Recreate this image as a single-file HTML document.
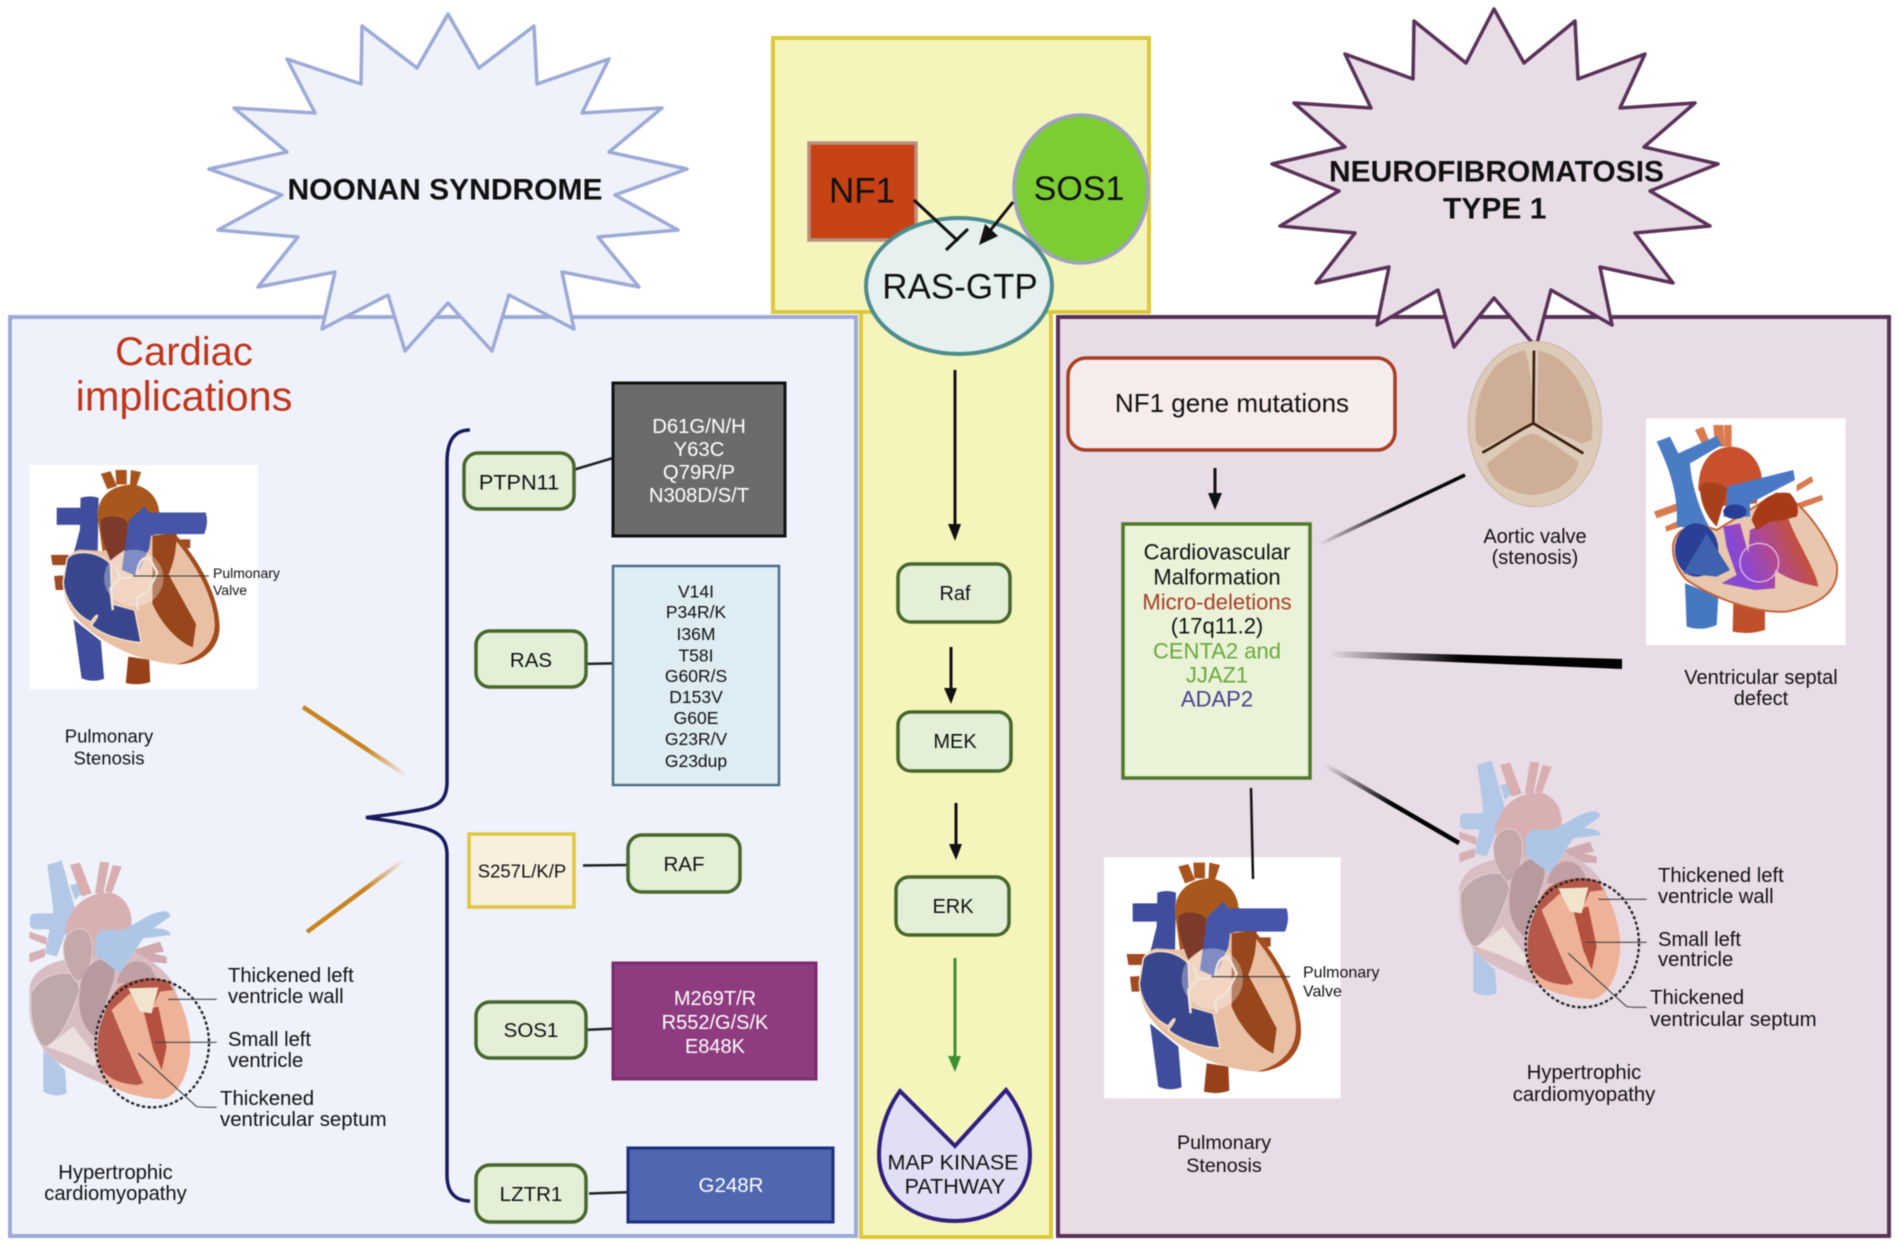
<!DOCTYPE html>
<html lang="en"><head><meta charset="utf-8"><title>Noonan Syndrome and Neurofibromatosis Type 1</title>
<style>
html,body{margin:0;padding:0;background:#fff;width:1900px;height:1246px;overflow:hidden}
svg{display:block;filter:blur(.5px)}
text{font-family:"Liberation Sans",sans-serif;fill:#111;text-anchor:middle}
.l{text-anchor:start}
.b{font-weight:bold}
.w{fill:#fff}
.box{fill:#e4efd8;stroke:#47672a;stroke-width:3.5}
</style></head><body>
<svg width="1900" height="1246" viewBox="0 0 1900 1246" xmlns="http://www.w3.org/2000/svg">
<defs>
<linearGradient id="o1" gradientUnits="userSpaceOnUse" x1="303" y1="707" x2="407" y2="776"><stop offset="0" stop-color="#c8841e"/><stop offset=".6" stop-color="#c8841e"/><stop offset="1" stop-color="#c8841e" stop-opacity="0"/></linearGradient>
<linearGradient id="o2" gradientUnits="userSpaceOnUse" x1="307" y1="932" x2="404" y2="860"><stop offset="0" stop-color="#c8841e"/><stop offset=".6" stop-color="#c8841e"/><stop offset="1" stop-color="#c8841e" stop-opacity="0"/></linearGradient>
<linearGradient id="k1" gradientUnits="userSpaceOnUse" x1="1465" y1="473" x2="1318" y2="544"><stop offset="0" stop-color="#000"/><stop offset=".5" stop-color="#111"/><stop offset="1" stop-color="#000" stop-opacity="0"/></linearGradient>
<linearGradient id="k2" gradientUnits="userSpaceOnUse" x1="1329" y1="654" x2="1621" y2="664"><stop offset="0" stop-color="#000" stop-opacity="0"/><stop offset=".45" stop-color="#000"/><stop offset="1" stop-color="#000"/></linearGradient>
<linearGradient id="k3" gradientUnits="userSpaceOnUse" x1="1325" y1="765" x2="1459" y2="843"><stop offset="0" stop-color="#000" stop-opacity="0"/><stop offset=".5" stop-color="#000"/></linearGradient>
<linearGradient id="lv" gradientUnits="userSpaceOnUse" x1="880" y1="700" x2="1060" y2="620"><stop offset="0" stop-color="#8a48d0"/><stop offset=".45" stop-color="#b04a90"/><stop offset="1" stop-color="#c8522c"/></linearGradient>
<g id="heartA">
<rect x="12" y="22" width="710" height="723" fill="#fff"/>
<path d="M150,520L175,710Q210,725 245,712L235,590Z" fill="#3f4d9c"/>
<path d="M320,640L312,725Q350,735 388,722L385,650Z" fill="#98401a"/>
<path d="M80,312H135V345H85ZM90,380L118,378V425L95,425ZM470,262H512V290H470Z" fill="#a04a22"/>
<path d="M172,128Q200,118 228,128L225,310H150L170,230Z" fill="#3f4d9c"/>
<path d="M98,160H175V215H98Z" fill="#3f4d9c"/>
<path d="M120,400C120,340 135,300 170,295L250,300C240,260 225,220 225,180C225,120 270,90 330,85C380,90 410,130 415,170L460,240C520,300 600,430 603,540C605,620 540,665 470,665C390,660 290,630 200,555C150,515 115,460 120,400Z" fill="#eac0a4"/>
<path d="M415,170L460,240C520,300 600,430 603,540C605,620 540,665 470,665C530,650 585,610 588,540C590,450 520,320 445,240Z" fill="#a34c1e"/>
<path d="M235,50L265,42L285,90L255,100ZM280,38H315V85H283ZM328,38L360,45L345,90H325Z" fill="#a8521c"/>
<path d="M225,190C225,120 270,88 330,85C385,90 415,135 415,175L390,250L240,300Z" fill="#a8581c"/>
<path d="M235,200C250,180 310,185 318,210L315,290L265,330C245,280 232,240 235,200Z" fill="#7d3a2a"/>
<path d="M395,250L470,240C470,320 450,360 445,375L530,535L520,610C470,590 420,530 395,470Z" fill="#98461c"/>
<path d="M130,325C150,295 220,295 265,340L270,470L340,490L360,595C300,590 240,570 205,540C240,495 220,500 205,528C160,510 120,450 118,400Z" fill="#39468e" stroke="#f0dcc8" stroke-width="5"/>
<path d="M322,200L370,155L385,175H540L560,175Q570,210 555,245H410L390,250L385,290L345,380L300,360Z" fill="#4655a8"/>
<circle cx="337" cy="387" r="92" fill="#fff" opacity=".32"/>
<path d="M280,350L295,385L265,420L272,490M300,385Q320,390 330,380M345,385C350,330 370,310 390,330L410,370L380,430L345,450L350,490" fill="none" stroke="#f0e4d8" stroke-width="8"/>
<path d="M335,380H570" stroke="#333" stroke-width="3.5" fill="none"/>
</g>
<g id="heartB">
<path d="M82,45L125,32L165,175L110,320L75,310L100,180Z" fill="#b2c8e6"/>
<path d="M150,105L175,100L185,130L165,150Z" fill="#b2c8e6"/>
<path d="M30,205Q30,190 50,190H100V238H50Q30,238 30,222Z" fill="#b2c8e6"/>
<path d="M28,245L80,262V285L28,265ZM28,310L75,295V320L28,338Z" fill="#d6b0b4"/>
<path d="M150,45L180,38L215,130L185,140ZM240,35L268,38L250,130H225ZM278,45L305,50L275,130L255,125Z" fill="#d8aeb0"/>
<path d="M135,240C150,150 230,120 280,130C325,145 345,200 330,250L280,340L150,330Z" fill="#d8b0b2"/>
<path d="M340,300L420,275L432,305L400,310L440,320V340L380,335Z" fill="#d0aaae"/>
<path d="M70,600V725Q105,745 140,730L135,660Z" fill="#b2c8e6"/>
<path d="M28,420C30,370 80,340 130,330L340,305C400,330 440,370 460,400L510,560C515,650 480,730 430,745C340,745 230,700 110,635C60,600 30,540 28,480Z" fill="#d8bdc2"/>
<path d="M32,430C60,380 110,365 150,370C180,390 175,410 180,420C150,500 130,560 80,590L68,587C40,560 30,500 32,430Z" fill="#bfa8aa" stroke="#e4d4d4" stroke-width="3"/>
<path d="M130,290C135,240 170,230 195,240C225,260 225,320 195,385L170,395C140,360 130,330 130,290Z" fill="#c4a8aa" stroke="#e0d0d0" stroke-width="3"/>
<path d="M180,420C185,350 240,310 275,335C290,350 285,385 270,420L225,560C190,540 170,480 180,420Z" fill="#b89a9e"/>
<path d="M290,400C300,350 340,310 390,350L410,385L320,400Z" fill="#c0a0a4"/>
<path d="M80,590L160,530L230,620L225,650L150,615Z" fill="#ece0dc"/>
<path d="M228,260Q240,235 265,240L310,240L390,195Q450,170 450,200L400,235Q450,235 452,255L370,265L300,370L225,315Z" fill="#aec6e6"/>
<path d="M300,410C340,385 400,375 445,400C490,450 515,540 510,610C500,690 470,735 430,748C370,745 300,730 260,700C225,620 230,560 250,500C265,460 275,430 300,410Z" fill="#eeb298"/>
<path d="M300,410C340,385 400,375 445,395L460,420L420,425L390,490L330,430L275,480C300,540 340,640 370,700L350,705C300,700 265,690 240,650C225,600 235,530 250,500C265,460 275,430 300,410Z" fill="#b5584a"/>
<path d="M370,480L415,470L440,590L425,660L400,600Z" fill="#b5503f"/>
<path d="M325,415L415,412L395,490L360,485Z" fill="#f0e4cc"/>
<ellipse cx="397" cy="580" rx="170" ry="192" fill="none" stroke="#222" stroke-width="7" stroke-dasharray="10 7"/>
<path d="M445,448H590M405,577H590M355,610L530,770Q535,772 590,772" fill="none" stroke="#444" stroke-width="3.5"/>
</g>
</defs>

<!-- panels -->
<rect x="773" y="38" width="376" height="274" fill="#f5f5bb" stroke="#dcc83c" stroke-width="4"/>
<rect x="10" y="317" width="846" height="919" fill="#eff2fb" stroke="#9daad6" stroke-width="4"/>
<rect x="861" y="312" width="190" height="925" fill="#f5f5bb" stroke="#dcc83c" stroke-width="4"/>
<rect x="1058" y="317" width="831" height="919" fill="#e8dce6" stroke="#5a3258" stroke-width="4"/>

<!-- stars -->
<polygon points="448,14 479,68 534,26 537,84 609,59 582,113 662,108 609,152 687,169 615,195 678,230 598,237 639,287 562,272 574,329 509,295 492,351 448,303 405,351 388,295 322,329 335,272 258,287 298,237 218,230 282,195 209,169 287,152 234,108 315,113 287,59 361,84 362,26 417,68" fill="#eff2fb" stroke="#9daad6" stroke-width="3.5" stroke-linejoin="round"/>
<polygon points="1494,9 1524,63 1575,21 1578,79 1645,54 1620,108 1695,103 1644,147 1718,164 1650,191 1710,226 1635,233 1673,283 1600,267 1612,325 1551,290 1536,347 1494,298 1454,347 1438,290 1377,325 1389,267 1316,283 1355,233 1280,226 1339,191 1272,164 1345,147 1294,103 1371,108 1345,54 1413,79 1414,21 1466,63" fill="#e8dce6" stroke="#5a3258" stroke-width="3.5" stroke-linejoin="round"/>
<text x="445" y="189" dy=".35em" class="b" font-size="30">NOONAN SYNDROME</text>
<text x="1329" y="171" dy=".35em" class="b l" font-size="30" textLength="335" lengthAdjust="spacingAndGlyphs">NEUROFIBROMATOSIS</text>
<text x="1443" y="208" dy=".35em" class="b l" font-size="30">TYPE 1</text>

<!-- center top -->
<rect x="809" y="143" width="107" height="97" fill="#c64214" stroke="#bc8d80" stroke-width="3.5"/>
<text x="862" y="190" dy=".35em" font-size="35">NF1</text>
<ellipse cx="1081" cy="189" rx="67" ry="74" fill="#7ccd32" stroke="#9f9fc8" stroke-width="3.5"/>
<text x="1079" y="188" dy=".35em" font-size="34">SOS1</text>
<ellipse cx="959" cy="286" rx="93" ry="68" fill="#e5f0ef" stroke="#4d8d8d" stroke-width="4"/>
<text x="960" y="286" dy=".35em" font-size="35">RAS-GTP</text>
<path d="M914,200L958,241M946,250L968,229" stroke="#111" stroke-width="3" fill="none"/>
<path d="M1013,202L989,232" stroke="#111" stroke-width="3" fill="none"/>
<polygon points="979,245 985,224 998,236" fill="#111"/>

<!-- pathway -->
<path d="M955,370V526" stroke="#111" stroke-width="3"/><polygon points="948,524 961,524 955,541" fill="#111"/>
<path d="M951,647V690" stroke="#111" stroke-width="3"/><polygon points="944,688 957,688 951,704" fill="#111"/>
<path d="M956,803V846" stroke="#111" stroke-width="3"/><polygon points="949,844 962,844 956,860" fill="#111"/>
<path d="M955,958V1058" stroke="#3f8f2f" stroke-width="3"/><polygon points="948,1056 961,1056 955,1072" fill="#3f8f2f"/>
<rect class="box" x="898" y="564" width="112" height="58" rx="13"/><text x="955" y="593" dy=".35em" font-size="20">Raf</text>
<rect class="box" x="898" y="712" width="113" height="59" rx="13"/><text x="955" y="741" dy=".35em" font-size="20">MEK</text>
<rect class="box" x="896" y="877" width="113" height="58" rx="13"/><text x="953" y="906" dy=".35em" font-size="20">ERK</text>
<path d="M900,1091L955,1146L1006,1090C1022,1110 1030,1135 1030,1155C1030,1195 997,1221 955,1221C912,1221 879,1195 879,1155C879,1135 886,1110 900,1091Z" fill="#e1dff3" stroke="#2f2080" stroke-width="4"/>
<text x="953" y="1162" dy=".35em" font-size="21.5">MAP KINASE</text>
<text x="955" y="1186" dy=".35em" font-size="21.5">PATHWAY</text>

<!-- left panel -->
<text x="184" y="351" dy=".35em" font-size="40" style="fill:#c0341a">Cardiac</text>
<text x="184" y="396" dy=".35em" font-size="41.5" style="fill:#c0341a">implications</text>
<use href="#heartA" transform="translate(25.1,458.2) scale(.3225,.31)"/>
<text x="213" y="573" dy=".35em" class="l" font-size="14">Pulmonary</text>
<text x="213" y="590" dy=".35em" class="l" font-size="14">Valve</text>
<text x="109" y="736" dy=".35em" font-size="18.5">Pulmonary</text>
<text x="109" y="758" dy=".35em" font-size="18.5">Stenosis</text>
<path d="M303,707L407,776" stroke="url(#o1)" stroke-width="4.5" fill="none"/>
<path d="M307,932L404,860" stroke="url(#o2)" stroke-width="4.5" fill="none"/>
<path d="M470,430C455,430 447,440 447,462V782C447,800 438,806 424,809C405,813 385,815 366,817.5C385,820 405,823 424,828C438,832 447,838 447,855V1175C447,1192 455,1201 470,1201" fill="none" stroke="#1a1a60" stroke-width="3.5"/>
<use href="#heartB" transform="translate(20,850) scale(.3333)"/>
<text x="228" y="975" dy=".35em" class="l" font-size="20.2">Thickened left</text>
<text x="228" y="996" dy=".35em" class="l" font-size="20.2">ventricle wall</text>
<text x="228" y="1039" dy=".35em" class="l" font-size="20.2">Small left</text>
<text x="228" y="1060" dy=".35em" class="l" font-size="20.2">ventricle</text>
<text x="220" y="1098" dy=".35em" class="l" font-size="20.4">Thickened</text>
<text x="220" y="1119" dy=".35em" class="l" font-size="20.4">ventricular septum</text>
<text x="115.5" y="1172" dy=".35em" font-size="20.2">Hypertrophic</text>
<text x="115.5" y="1193" dy=".35em" font-size="20.2">cardiomyopathy</text>

<path d="M573,470L613,458" stroke="#222" stroke-width="2.5"/>
<path d="M582,664L630,663" stroke="#222" stroke-width="2.5"/>
<path d="M583,865.5L627,865" stroke="#222" stroke-width="2.5"/>
<path d="M582,1030L628,1028" stroke="#222" stroke-width="2.5"/>
<path d="M589,1193.5L635,1192" stroke="#222" stroke-width="2.5"/>

<rect class="box" x="464" y="453" width="110" height="56" rx="14"/><text x="519" y="482" dy=".35em" font-size="21.7">PTPN11</text>
<rect class="box" x="476" y="631" width="110" height="56" rx="14"/><text x="531" y="660" dy=".35em" font-size="20.5">RAS</text>
<rect class="box" x="628" y="835" width="112" height="57" rx="14"/><text x="684" y="864" dy=".35em" font-size="20.5">RAF</text>
<rect class="box" x="476" y="1002" width="110" height="56" rx="14"/><text x="531" y="1030" dy=".35em" font-size="20.5">SOS1</text>
<rect class="box" x="476" y="1165" width="110" height="57" rx="14"/><text x="531" y="1194" dy=".35em" font-size="20.5">LZTR1</text>
<rect x="469" y="834" width="105" height="73" fill="#f8f0dc" stroke="#e0c640" stroke-width="3.5"/>
<text x="522" y="871" dy=".35em" font-size="18.5">S257L/K/P</text>

<rect x="613" y="383" width="172" height="153" fill="#6b6b6b" stroke="#111" stroke-width="3"/>
<g font-size="20.3">
<text class="w" x="699" y="426" dy=".35em">D61G/N/H</text>
<text class="w" x="699" y="449" dy=".35em">Y63C</text>
<text class="w" x="699" y="472" dy=".35em">Q79R/P</text>
<text class="w" x="699" y="495" dy=".35em">N308D/S/T</text>
</g>
<rect x="613" y="566" width="166" height="219" fill="#deecf4" stroke="#4a7088" stroke-width="2.5"/>
<g font-size="17.5">
<text x="696" y="591.5" dy=".35em">V14I</text>
<text x="696" y="612" dy=".35em">P34R/K</text>
<text x="696" y="634" dy=".35em">I36M</text>
<text x="696" y="655.5" dy=".35em">T58I</text>
<text x="696" y="676" dy=".35em">G60R/S</text>
<text x="696" y="697" dy=".35em">D153V</text>
<text x="696" y="718" dy=".35em">G60E</text>
<text x="696" y="739" dy=".35em">G23R/V</text>
<text x="696" y="761" dy=".35em">G23dup</text>
</g>
<rect x="613" y="963" width="203" height="116" fill="#8f3b7f" stroke="#7a2b6e" stroke-width="3"/>
<g font-size="20">
<text class="w" x="715" y="998" dy=".35em">M269T/R</text>
<text class="w" x="715" y="1022" dy=".35em">R552/G/S/K</text>
<text class="w" x="715" y="1046" dy=".35em">E848K</text>
</g>
<rect x="628" y="1148" width="205" height="74" fill="#4f66b0" stroke="#1c2e80" stroke-width="3"/>
<text class="w" x="731" y="1185" dy=".35em" font-size="20.5">G248R</text>

<!-- right panel -->
<rect x="1068" y="358" width="327" height="92" rx="18" fill="#f6ecec" stroke="#a83c22" stroke-width="3.5"/>
<text x="1232" y="403" dy=".35em" font-size="26">NF1 gene mutations</text>
<path d="M1215,468V495" stroke="#111" stroke-width="3"/><polygon points="1208,493 1222,493 1215,510" fill="#111"/>
<rect x="1123" y="524" width="187" height="254" fill="#eaf3d8" stroke="#4e7a28" stroke-width="3.5"/>
<g font-size="22">
<text x="1217" y="552" dy=".35em">Cardiovascular</text>
<text x="1217" y="577" dy=".35em">Malformation</text>
<text x="1217" y="602" dy=".35em" style="fill:#a83c28">Micro-deletions</text>
<text x="1217" y="626" dy=".35em">(17q11.2)</text>
<text x="1217" y="651" dy=".35em" style="fill:#6aa83c">CENTA2 and</text>
<text x="1217" y="675" dy=".35em" style="fill:#6aa83c">JJAZ1</text>
<text x="1217" y="699" dy=".35em" style="fill:#4a4090">ADAP2</text>
</g>
<path d="M1465,475L1318,545" stroke="url(#k1)" stroke-width="3.5" fill="none"/>
<polygon points="1329,651 1622,659 1622,669 1329,657" fill="url(#k2)"/>
<path d="M1325,765L1459,843" stroke="url(#k3)" stroke-width="4.5" fill="none"/>

<!-- aortic valve -->
<g transform="translate(1450,330) scale(.3333)">
<ellipse cx="255" cy="282" rx="200" ry="248" fill="#dccbb8" stroke="#c8b4a0" stroke-width="3"/>
<path d="M80,340C60,220 110,80 225,62C245,120 250,220 245,280C180,310 130,340 100,355Z" fill="#cfae98"/>
<path d="M265,62C370,80 440,220 425,330L395,340L260,280Z" fill="#cfae98"/>
<path d="M110,400C170,360 220,310 250,310C300,330 350,370 385,395C380,450 320,490 250,495C170,490 120,450 110,400Z" fill="#cfae98"/>
<path d="M252,62L250,280M97,368C150,340 190,310 250,280L400,370" fill="none" stroke="#3c1c0c" stroke-width="8"/>
</g>
<text x="1535" y="536" dy=".35em" font-size="20">Aortic valve</text>
<text x="1535" y="557" dy=".35em" font-size="20">(stenosis)</text>

<!-- VSD heart -->
<g transform="translate(1450,330) scale(.3333)">
<rect x="588" y="265" width="599" height="680" fill="#fff"/>
<path d="M705,760L710,890Q755,905 800,885L805,800Z" fill="#4678c0"/>
<path d="M850,820L848,905Q895,915 945,900V840Z" fill="#c0502c"/>
<path d="M612,545L680,520L690,540L620,565ZM645,590L690,570L695,590L650,605ZM1040,465L1085,438L1090,455L1040,485ZM1040,520L1115,495L1120,510L1040,540ZM735,300L760,290L785,350L765,360ZM790,285H820L825,350H795ZM822,285H845V350H825Z" fill="#d97a50"/>
<path d="M745,480C745,400 780,355 840,350C900,350 930,400 935,440L920,520L800,530Z" fill="#c8502c"/>
<path d="M620,335L660,320L685,370L800,318L815,345L720,400C725,470 755,560 785,600L680,590C685,500 665,430 620,335Z" fill="#4a7cc4"/>
<path d="M670,640C680,600 720,570 800,600L980,490C1050,500 1130,620 1160,700C1170,770 1130,820 1010,845C920,850 800,810 710,750C680,720 665,680 670,640Z" fill="#e9c6ae" stroke="#c4643a" stroke-width="6"/>
<path d="M820,590L870,580L895,670L900,600L1010,550C1030,620 1100,720 1105,770C1050,760 1010,745 975,720L975,775L915,780L815,760L860,735L830,650Z" fill="url(#lv)"/>
<ellipse cx="740" cy="660" rx="65" ry="80" fill="#2a3f96"/>
<path d="M770,610L840,720L800,740L700,730Z" fill="#3e62ae"/>
<path d="M830,470L1030,420L1035,450L900,520V560H820L830,520Z" fill="#4b78c4"/>
<ellipse cx="855" cy="545" rx="35" ry="22" fill="#283f98"/>
<path d="M750,470C760,450 820,455 832,480L815,540L800,590C770,560 750,520 750,470Z" fill="#a8401c"/>
<path d="M905,570C920,510 970,480 1020,490C1040,510 1050,540 1040,560L1000,570L960,575L920,600Z" fill="#a93a18"/>
<circle cx="928" cy="698" r="58" fill="none" stroke="#e6b9e8" stroke-width="4"/>
</g>
<text x="1761" y="677" dy=".35em" font-size="20">Ventricular septal</text>
<text x="1761" y="698" dy=".35em" font-size="20">defect</text>

<use href="#heartA" transform="translate(1100,850) scale(.3333)"/>
<path d="M1251,788L1253,879" stroke="#111" stroke-width="2.5" fill="none"/>
<text x="1303" y="972" dy=".35em" class="l" font-size="16">Pulmonary</text>
<text x="1303" y="991" dy=".35em" class="l" font-size="16">Valve</text>
<text x="1224" y="1142" dy=".35em" font-size="19.7">Pulmonary</text>
<text x="1224" y="1165" dy=".35em" font-size="19.7">Stenosis</text>
<use href="#heartB" transform="translate(1450,750) scale(.3333)"/>
<text x="1658" y="875" dy=".35em" class="l" font-size="20.2">Thickened left</text>
<text x="1658" y="896" dy=".35em" class="l" font-size="20.2">ventricle wall</text>
<text x="1658" y="939" dy=".35em" class="l" font-size="20.2">Small left</text>
<text x="1658" y="959" dy=".35em" class="l" font-size="20.2">ventricle</text>
<text x="1650" y="997" dy=".35em" class="l" font-size="20.4">Thickened</text>
<text x="1650" y="1019" dy=".35em" class="l" font-size="20.4">ventricular septum</text>
<text x="1584" y="1072" dy=".35em" font-size="20.2">Hypertrophic</text>
<text x="1584" y="1094" dy=".35em" font-size="20.2">cardiomyopathy</text>
</svg>
</body></html>
